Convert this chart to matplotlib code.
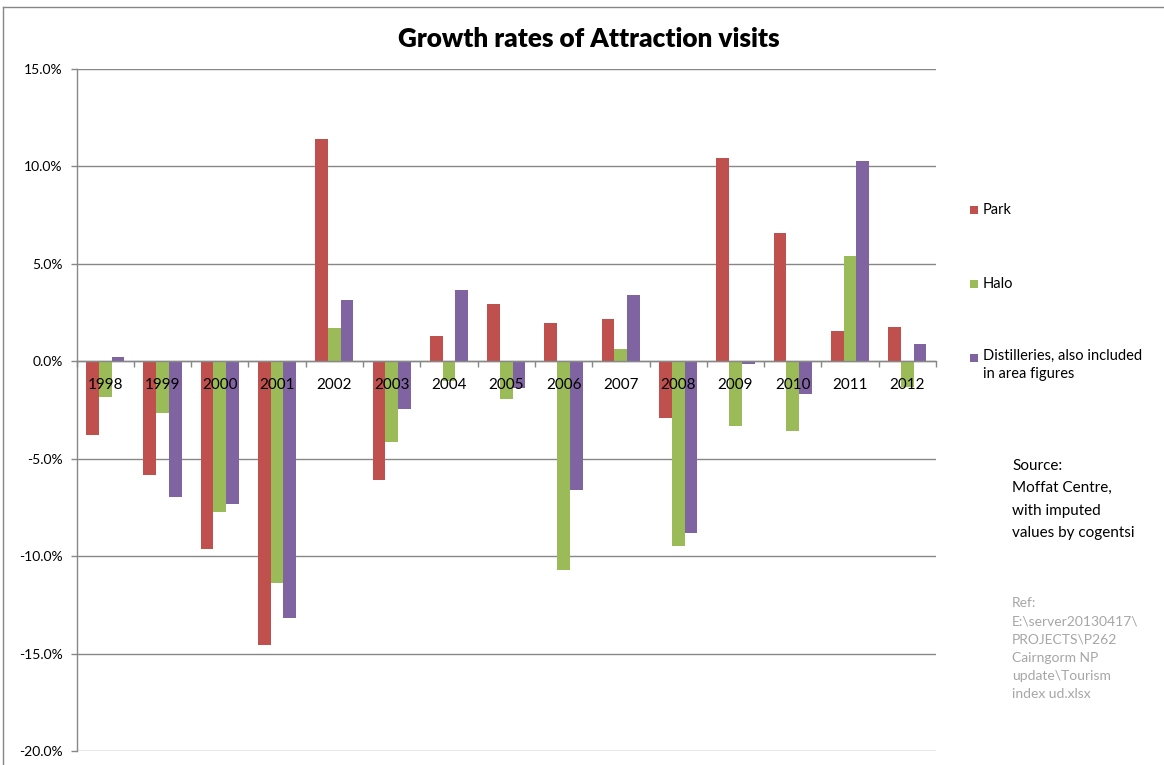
import matplotlib
matplotlib.use("Agg")
import matplotlib.pyplot as plt
from matplotlib.patches import Rectangle
from matplotlib.lines import Line2D
from matplotlib.ticker import FuncFormatter, MultipleLocator, FixedLocator
import numpy as np

years = ["1998", "1999", "2000", "2001", "2002", "2003", "2004", "2005",
         "2006", "2007", "2008", "2009", "2010", "2011", "2012"]
park = [-3.78, -5.82, -9.65, -14.54, 11.42, -6.07, 1.28, 2.96,
        1.95, 2.15, -2.92, 10.43, 6.60, 1.56, 1.76]
halo = [-1.82, -2.64, -7.73, -11.36, 1.73, -4.16, -1.00, -1.95,
        -10.73, 0.65, -9.50, -3.33, -3.57, 5.42, -1.32]
distilleries = [0.22, -6.99, -7.34, -13.15, 3.15, -2.46, 3.64, -1.35,
                -6.60, 3.41, -8.80, -0.12, -1.70, 10.30, 0.89]

series_names = ["Park", "Halo", "Distilleries, also included\nin area figures"]
colors = ["#C0504D", "#9BBB59", "#8064A2"]

source_text = "Source:\nMoffat Centre,\nwith imputed\nvalues by cogentsi"
ref_text = ("Ref:\nE:\\server20130417\\\nPROJECTS\\P262\nCairngorm NP\n"
            "update\\Tourism\nindex ud.xlsx")

plt.rcParams["font.family"] = ["Lato", "DejaVu Sans"]

W, H = 1164, 765
fig = plt.figure(figsize=(W / 100, H / 100), dpi=100)

def fx(px):
    return px / W

def fy(py):
    return 1 - py / H

ax_left, ax_right, ax_top, ax_bottom = 76.5, 936, 69, 751
ax = fig.add_axes([fx(ax_left), fy(ax_bottom), fx(ax_right - ax_left),
                   fy(ax_top) - fy(ax_bottom)])

x = np.arange(len(years))
bw = 0.222
grid_c = "#878787"
for k, (vals, c) in enumerate(zip([park, halo, distilleries], colors)):
    ax.bar(x + (k - 1) * bw, vals, width=bw, color=c, edgecolor="none",
           zorder=3)

ax.set_xlim(-0.5, len(years) - 0.5)
ax.set_ylim(-20, 15)
ax.yaxis.set_major_locator(MultipleLocator(5))
ax.yaxis.set_major_formatter(FuncFormatter(lambda v, p: f"{v:.1f}%"))
ax.grid(axis="y", color=grid_c, linewidth=1.0)
ax.set_axisbelow(True)
# category labels sit on top of the bars
ax.xaxis.set_zorder(5)

for s in ["top", "right"]:
    ax.spines[s].set_visible(False)
ax.spines["left"].set_color(grid_c)
ax.spines["left"].set_linewidth(1.0)
ax.spines["bottom"].set_position(("data", 0))
ax.spines["bottom"].set_color(grid_c)
ax.spines["bottom"].set_linewidth(1.0)
ax.spines["bottom"].set_zorder(4)

ax.xaxis.set_major_locator(FixedLocator(x))
ax.set_xticklabels(years)
ax.xaxis.set_minor_locator(FixedLocator(np.arange(len(years) + 1) - 0.5))
ax.tick_params(axis="x", which="major", length=0, pad=12, labelsize=11,
               labelcolor="black")
ax.tick_params(axis="x", which="minor", length=4, color=grid_c, width=1.0,
               direction="out")
ax.tick_params(axis="y", length=4, color=grid_c, width=1.0, labelsize=10,
               pad=6, labelcolor="black")

# title
fig.text(fx(589), fy(39), "Growth rates of Attraction visits", ha="center",
         va="center", fontsize=18.8, fontweight="heavy")

# legend
legend_y = [210, 284, 358]
for name, c, ly in zip(series_names, colors, legend_y):
    fig.add_artist(Rectangle((fx(970), fy(ly + 4)), fx(8), fy(ly - 4) - fy(ly + 4),
                             transform=fig.transFigure, facecolor=c,
                             edgecolor="none"))
    if "\n" in name:
        fig.text(fx(983), fy(ly - 9), name, ha="left", va="top",
                 fontsize=10.5, linespacing=1.35)
    else:
        fig.text(fx(983), fy(ly), name, ha="left", va="center", fontsize=10.5)

# notes
fig.text(fx(1012), fy(459), source_text, ha="left", va="top", fontsize=11,
         linespacing=1.75, color="black")
fig.text(fx(1012), fy(597), ref_text, ha="left", va="top", fontsize=10,
         linespacing=1.63, color="#A6A6A6")

# chart-area frame
fig.add_artist(Line2D([fx(3), fx(3)], [fy(7), 0], transform=fig.transFigure,
                      color="#868686", linewidth=1.0))
fig.add_artist(Line2D([fx(3), 1], [fy(7), fy(7)], transform=fig.transFigure,
                      color="#868686", linewidth=1.0))

fig.savefig("out.png", dpi=100, facecolor="white")
